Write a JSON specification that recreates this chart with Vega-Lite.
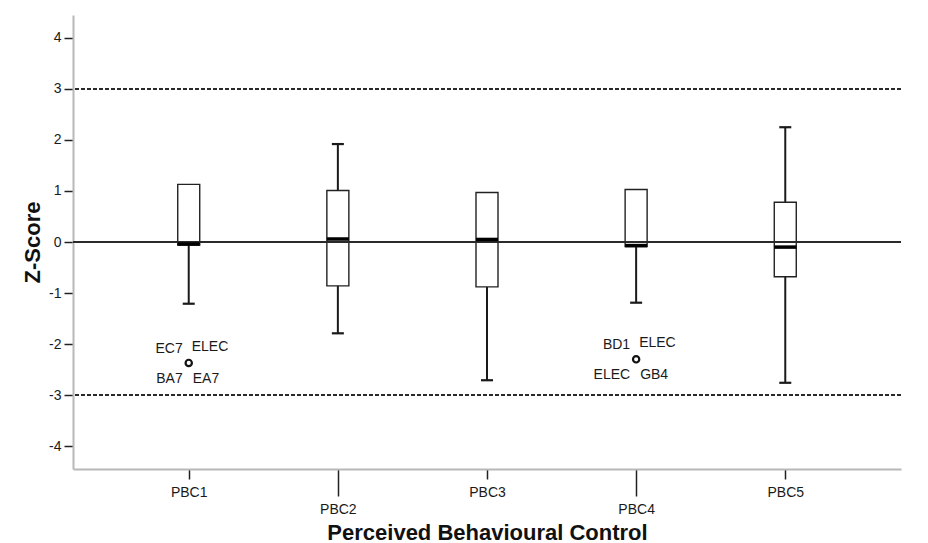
{
  "$schema": "https://vega.github.io/schema/vega-lite/v6.json",
  "width": 828,
  "height": 454,
  "autosize": "none",
  "padding": {"left": 73, "top": 15, "right": 27, "bottom": 74},
  "background": "white",
  "config": {
    "view": {"stroke": null},
    "font": "Liberation Sans",
    "text": {"font": "Liberation Sans"}
  },
  "datasets": {
    "boxes": [
      {"item": "PBC1", "min": -1.21, "q1": -0.06, "median": -0.04, "q3": 1.13, "max": 1.13},
      {"item": "PBC2", "min": -1.79, "q1": -0.86, "median": 0.06, "q3": 1.01, "max": 1.92},
      {"item": "PBC3", "min": -2.71, "q1": -0.88, "median": 0.05, "q3": 0.97, "max": 0.97},
      {"item": "PBC4", "min": -1.19, "q1": -0.09, "median": -0.07, "q3": 1.03, "max": 1.03},
      {"item": "PBC5", "min": -2.76, "q1": -0.68, "median": -0.10, "q3": 0.78, "max": 2.25}
    ],
    "outliers": [
      {"item": "PBC1", "z": -2.37},
      {"item": "PBC4", "z": -2.30}
    ],
    "labels": [
      {"item": "PBC1", "z": -2.37, "label": "EC7", "pos": "UL"},
      {"item": "PBC1", "z": -2.37, "label": "ELEC", "pos": "UR"},
      {"item": "PBC1", "z": -2.37, "label": "BA7", "pos": "LL"},
      {"item": "PBC1", "z": -2.37, "label": "EA7", "pos": "LR"},
      {"item": "PBC4", "z": -2.30, "label": "BD1", "pos": "UL"},
      {"item": "PBC4", "z": -2.30, "label": "ELEC", "pos": "UR"},
      {"item": "PBC4", "z": -2.30, "label": "ELEC", "pos": "LL"},
      {"item": "PBC4", "z": -2.30, "label": "GB4", "pos": "LR"}
    ],
    "refs": [
      {"ref": 0, "kind": "solid"},
      {"ref": 3, "kind": "dashed"},
      {"ref": -3, "kind": "dashed"}
    ]
  },
  "layer": [
    {
      "data": {"name": "refs"},
      "transform": [{"filter": "datum.kind === 'dashed'"}],
      "mark": {"type": "rule", "color": "#2a2a2a", "strokeWidth": 2, "strokeDash": [4, 2]},
      "encoding": {
        "y": {
          "field": "ref",
          "type": "quantitative",
          "scale": {"domain": [-4.45, 4.45], "nice": false, "zero": false},
          "axis": {
            "title": "Z-Score",
            "values": [-4, -3, -2, -1, 0, 1, 2, 3, 4],
            "labelExpr": "'' + datum.value",
            "titleFont": "Liberation Sans",
            "titleFontSize": 22,
            "titleFontWeight": "bold",
            "titleColor": "#111111",
            "titleX": -41,
            "titleY": 227,
            "titleAlign": "center",
            "titleBaseline": "middle",
            "labelFont": "Liberation Sans",
            "labelFontSize": 14,
            "labelColor": "#1a1a1a",
            "labelPadding": 3,
            "domainColor": "#b8b8b8",
            "domainWidth": 2,
            "tickColor": "#222222",
            "tickWidth": 1.5,
            "tickSize": 9,
            "grid": false
          }
        }
      }
    },
    {
      "data": {"name": "boxes"},
      "mark": {"type": "rule", "color": "#1a1a1a", "strokeWidth": 2},
      "encoding": {
        "x": {
          "field": "item",
          "type": "nominal",
          "scale": {"type": "point", "domain": ["PBC1", "PBC2", "PBC3", "PBC4", "PBC5"], "padding": 0.776},
          "axis": {
            "title": "Perceived Behavioural Control",
            "titleFont": "Liberation Sans",
            "titleFontSize": 22,
            "titleFontWeight": "bold",
            "titleColor": "#111111",
            "titleBaseline": "alphabetic",
            "titleY": 70,
            "labelAngle": 0,
            "labelFont": "Liberation Sans",
            "labelFontSize": 14,
            "labelColor": "#1a1a1a",
            "labelPadding": 6,
            "domainColor": "#b8b8b8",
            "domainWidth": 2,
            "tickColor": "#222222",
            "tickWidth": 1.5,
            "tickSize": {"condition": {"test": "datum.value === 'PBC2' || datum.value === 'PBC4'", "value": 27}, "value": 10},
            "grid": false
          }
        },
        "y": {"field": "min", "type": "quantitative", "title": "Z-Score"},
        "y2": {"field": "q1"}
      }
    },
    {
      "data": {"name": "boxes"},
      "transform": [{"filter": "datum.max > datum.q3"}],
      "mark": {"type": "rule", "color": "#1a1a1a", "strokeWidth": 2},
      "encoding": {
        "x": {"field": "item", "type": "nominal", "title": "Perceived Behavioural Control"},
        "y": {"field": "q3", "type": "quantitative", "title": "Z-Score"},
        "y2": {"field": "max"}
      }
    },
    {
      "data": {"name": "boxes"},
      "mark": {"type": "tick", "color": "#1a1a1a", "opacity": 1, "size": 12, "thickness": 2.2},
      "encoding": {
        "x": {"field": "item", "type": "nominal", "title": "Perceived Behavioural Control"},
        "y": {"field": "min", "type": "quantitative", "title": "Z-Score"}
      }
    },
    {
      "data": {"name": "boxes"},
      "transform": [{"filter": "datum.max > datum.q3"}],
      "mark": {"type": "tick", "color": "#1a1a1a", "opacity": 1, "size": 12, "thickness": 2.2},
      "encoding": {
        "x": {"field": "item", "type": "nominal", "title": "Perceived Behavioural Control"},
        "y": {"field": "max", "type": "quantitative", "title": "Z-Score"}
      }
    },
    {
      "data": {"name": "boxes"},
      "mark": {"type": "bar", "size": 22, "fill": "white", "opacity": 1, "stroke": "#222222", "strokeWidth": 1.4},
      "encoding": {
        "x": {"field": "item", "type": "nominal", "title": "Perceived Behavioural Control"},
        "y": {"field": "q1", "type": "quantitative", "title": "Z-Score"},
        "y2": {"field": "q3"}
      }
    },
    {
      "data": {"name": "refs"},
      "transform": [{"filter": "datum.kind === 'solid'"}],
      "mark": {"type": "rule", "color": "#2a2a2a", "strokeWidth": 1.8},
      "encoding": {
        "y": {"field": "ref", "type": "quantitative", "title": "Z-Score"}
      }
    },
    {
      "data": {"name": "boxes"},
      "mark": {"type": "tick", "color": "#000000", "opacity": 1, "size": 22, "thickness": 3.5},
      "encoding": {
        "x": {"field": "item", "type": "nominal", "title": "Perceived Behavioural Control"},
        "y": {"field": "median", "type": "quantitative", "title": "Z-Score"}
      }
    },
    {
      "data": {"name": "outliers"},
      "mark": {"type": "point", "shape": "circle", "size": 40, "filled": false, "stroke": "#111111", "strokeWidth": 2.2, "opacity": 1},
      "encoding": {
        "x": {"field": "item", "type": "nominal", "title": "Perceived Behavioural Control"},
        "y": {"field": "z", "type": "quantitative", "title": "Z-Score"}
      }
    },
    {
      "data": {"name": "labels"},
      "transform": [{"filter": "datum.pos === 'UL'"}],
      "mark": {"type": "text", "align": "right", "baseline": "middle", "dx": -6, "dy": -14, "fontSize": 14, "color": "#1a1a1a"},
      "encoding": {
        "x": {"field": "item", "type": "nominal", "title": "Perceived Behavioural Control"},
        "y": {"field": "z", "type": "quantitative", "title": "Z-Score"},
        "text": {"field": "label"}
      }
    },
    {
      "data": {"name": "labels"},
      "transform": [{"filter": "datum.pos === 'UR'"}],
      "mark": {"type": "text", "align": "left", "baseline": "middle", "dx": 3, "dy": -16, "fontSize": 14, "color": "#1a1a1a"},
      "encoding": {
        "x": {"field": "item", "type": "nominal", "title": "Perceived Behavioural Control"},
        "y": {"field": "z", "type": "quantitative", "title": "Z-Score"},
        "text": {"field": "label"}
      }
    },
    {
      "data": {"name": "labels"},
      "transform": [{"filter": "datum.pos === 'LL'"}],
      "mark": {"type": "text", "align": "right", "baseline": "middle", "dx": -6, "dy": 16, "fontSize": 14, "color": "#1a1a1a"},
      "encoding": {
        "x": {"field": "item", "type": "nominal", "title": "Perceived Behavioural Control"},
        "y": {"field": "z", "type": "quantitative", "title": "Z-Score"},
        "text": {"field": "label"}
      }
    },
    {
      "data": {"name": "labels"},
      "transform": [{"filter": "datum.pos === 'LR'"}],
      "mark": {"type": "text", "align": "left", "baseline": "middle", "dx": 4, "dy": 16, "fontSize": 14, "color": "#1a1a1a"},
      "encoding": {
        "x": {"field": "item", "type": "nominal", "title": "Perceived Behavioural Control"},
        "y": {"field": "z", "type": "quantitative", "title": "Z-Score"},
        "text": {"field": "label"}
      }
    }
  ],
  "resolve": {"scale": {"x": "shared", "y": "shared"}}
}
